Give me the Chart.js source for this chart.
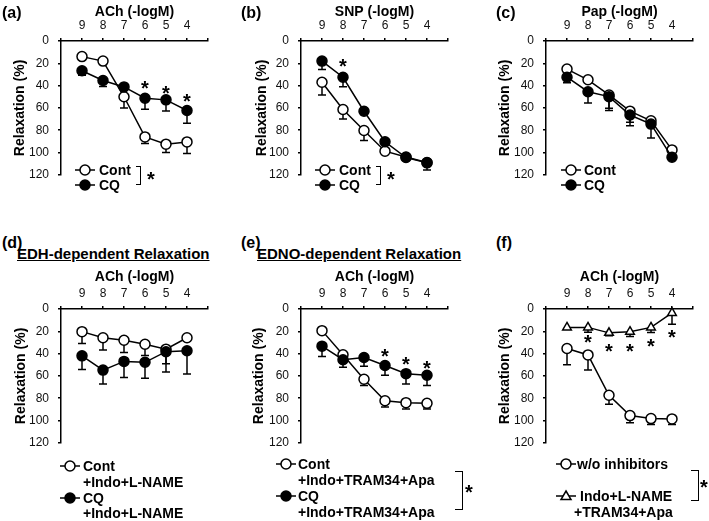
<!DOCTYPE html>
<html>
<head>
<meta charset="utf-8">
<script src="https://cdn.jsdelivr.net/npm/chart.js@4.4.0/dist/chart.umd.min.js"></script>
<style>
body { margin: 0; background: #fff; width: 709px; height: 521px; position: relative; overflow: hidden;
       font-family: 'Liberation Sans', Arial, sans-serif; color: #000; }
canvas { position: absolute; }
.t { position: absolute; white-space: nowrap; font-weight: bold; line-height: 18px; }
.br { position: absolute; border: 1.5px solid #000; border-left: none; box-sizing: border-box; }
</style>
</head>
<body>
<script>
// concentrações (-logM)
const conc = [9, 8, 7, 6, 5, 4];
const xTicks = [10, 9, 8, 7, 6, 5, 4, 3];

// (a) ACh
const contA = [14, 18, 50, 86, 92.5, 90.5];
const contAErr = [0, 0, 10, 6, 7.5, 10.5];
const cqA = [26.7, 35.4, 41.2, 51.3, 52.8, 62.3];
const cqAErr = [4, 5.5, 1.5, 10, 10, 11.5];
const sigAx = [6, 5, 4];
const sigAy = [39.5, 44, 51.5];

// (b) SNP
const contB = [37, 61.4, 80.3, 98.8, 104, 109];
const contBErr = [11.5, 8.5, 9, 0, 0, 0];
const cqB = [18, 32.5, 63, 90.4, 104.5, 109.3];
const cqBErr = [7.5, 8.5, 3, 0, 0, 6.5];
const sigBx = [8];
const sigBy = [19.4];

// (c) Pap
const contC = [25.2, 34.8, 48.4, 62.9, 71.6, 97.7];
const contCErr = [0, 0, 12, 10, 0, 0];
const cqC = [32.5, 45.5, 49.9, 66.4, 74.5, 104.3];
const cqCErr = [5, 10, 12.5, 9.6, 12.5, 0];

// (d) EDH
const contD = [20.3, 25.8, 28, 31.6, 36, 25.8];
const contDErr = [10.7, 11, 11, 10, 13, 0];
const cqD = [42, 54.8, 47, 47.8, 38.3, 37.4];
const cqDErr = [12.2, 12.4, 14.4, 14.2, 18.2, 21];

// (e) EDNO
const contE = [19.4, 41, 63, 82.3, 84, 84.6];
const contEErr = [0, 0, 5.7, 5.7, 5.7, 5.1];
const cqE = [33.3, 45.5, 43.5, 50.7, 58, 59.4];
const cqEErr = [9.3, 6.7, 7.8, 8.7, 9.2, 9.3];
const sigEx = [6, 5, 4];
const sigEy = [39.7, 47, 50];

// (f) sem / com inibidores
const woF = [35.4, 41.2, 77.4, 95.6, 98.3, 98.6];
const woFErr = [14.5, 13.6, 8.1, 6.4, 5.2, 4.9];
const inhF = [16.5, 16.5, 21.4, 20.3, 16.5, 3.5];
const inhFErr = [0, 4.4, 2.5, 4.3, 4.5, 10.1];
const sigFx = [8, 7, 6, 5, 4];
const sigFy = [26.7, 34.8, 34.8, 30.1, 22.3];

const FONT = "'Liberation Sans', Arial, sans-serif";
Chart.defaults.font.family = FONT;
Chart.defaults.color = '#000';

// barras de erro (só para baixo) e asteriscos
const extrasPlugin = {
    id: 'extras',
    beforeDatasetsDraw(chart) {
        const ctx = chart.ctx, xs = chart.scales.x, ys = chart.scales.y;
        ctx.save();
        ctx.strokeStyle = '#000';
        ctx.lineWidth = 1.5;
        chart.data.datasets.forEach(ds => {
            (ds.err || []).forEach((e, i) => {
                if (!e) return;
                const px = xs.getPixelForValue(ds.data[i].x);
                const y0 = ys.getPixelForValue(ds.data[i].y);
                const y1 = ys.getPixelForValue(ds.data[i].y + e);
                ctx.beginPath();
                ctx.moveTo(px, y0); ctx.lineTo(px, y1);
                ctx.moveTo(px - 4, y1); ctx.lineTo(px + 4, y1);
                ctx.stroke();
            });
        });
        ctx.restore();
    },
    afterDatasetsDraw(chart, args, opts) {
        if (!opts.sig) return;
        const ctx = chart.ctx, xs = chart.scales.x, ys = chart.scales.y;
        ctx.save();
        ctx.font = 'bold 20px ' + FONT;
        ctx.fillStyle = '#000';
        ctx.textAlign = 'center';
        ctx.textBaseline = 'middle';
        opts.sig.x.forEach((v, i) => {
            ctx.fillText('*', xs.getPixelForValue(v), ys.getPixelForValue(opts.sig.y[i]) + 4.5);
        });
        ctx.restore();
    }
};

function serie(vals, err, filled, style, order) {
    return {
        data: conc.map((c, i) => ({ x: c, y: vals[i] })),
        err: err,
        borderColor: '#000',
        borderWidth: 1.5,
        backgroundColor: filled ? '#000' : '#fff',
        pointBackgroundColor: filled ? '#000' : '#fff',
        pointBorderColor: '#000',
        pointBorderWidth: 1.5,
        pointStyle: style || 'circle',
        pointRadius: 5,
        tension: 0,
        clip: false,
        order: order
    };
}

function painel(p) {
    const cv = document.createElement('canvas');
    const w = p.right - p.left + 8;
    const h = p.axisY + 138 + 12;
    cv.width = w; cv.height = h;
    cv.style.left = p.left + 'px';
    cv.style.top = p.top + 'px';
    document.body.appendChild(cv);
    new Chart(cv.getContext('2d'), {
        type: 'line',
        data: { datasets: p.sets },
        options: {
            responsive: false,
            animation: false,
            layout: { padding: { left: 0, top: 0, right: 8, bottom: 12 } },
            plugins: { legend: { display: false }, tooltip: { enabled: false }, extras: { sig: p.sig } },
            scales: {
                x: {
                    type: 'linear', position: 'top', min: 3, max: 10, reverse: true,
                    afterBuildTicks: s => { s.ticks = xTicks.map(v => ({ value: v })); },
                    afterFit: s => { s.height = p.axisY; },
                    ticks: {
                        font: { size: 12 }, color: '#111', padding: 5, maxRotation: 0, autoSkip: false,
                        callback: v => (v === 10 || v === 3) ? '' : String(v)
                    },
                    grid: { drawOnChartArea: false, drawTicks: true, tickLength: 3, color: '#000', lineWidth: 1.5 },
                    border: { display: true, color: '#000', width: 1.5 },
                    title: { display: true, text: p.xTitle, font: { size: 14, weight: 'bold' }, padding: { top: 4, bottom: 0 } }
                },
                y: {
                    min: 0, max: 120, reverse: true,
                    afterFit: s => { s.width = p.axisX - p.left; },
                    ticks: { stepSize: 20, font: { size: 12 }, color: '#111', padding: 9 },
                    grid: { drawOnChartArea: false, drawTicks: true, tickLength: 3, color: '#000', lineWidth: 1.5 },
                    border: { display: true, color: '#000', width: 1.5 },
                    title: { display: true, text: 'Relaxation (%)', font: { size: 14, weight: 'bold' }, padding: { top: p.yPad, bottom: 0 } }
                }
            }
        },
        plugins: [extrasPlugin]
    });
}

painel({ left: 0, top: 0, axisX: 61, axisY: 41, right: 208, yPad: 12, xTitle: 'ACh (-logM)',
    sets: [serie(contA, contAErr, false, 'circle', 1), serie(cqA, cqAErr, true, 'circle', 0)],
    sig: { x: sigAx, y: sigAy } });
painel({ left: 240, top: 0, axisX: 301, axisY: 41, right: 448, yPad: 14, xTitle: 'SNP (-logM)',
    sets: [serie(contB, contBErr, false, 'circle', 1), serie(cqB, cqBErr, true, 'circle', 0)],
    sig: { x: sigBx, y: sigBy } });
painel({ left: 485, top: 0, axisX: 546, axisY: 41, right: 693, yPad: 12, xTitle: 'Pap (-logM)',
    sets: [serie(contC, contCErr, false, 'circle', 1), serie(cqC, cqCErr, true, 'circle', 0)] });
painel({ left: 0, top: 265, axisX: 61, axisY: 44, right: 208, yPad: 12.4, xTitle: 'ACh (-logM)',
    sets: [serie(contD, contDErr, false, 'circle', 1), serie(cqD, cqDErr, true, 'circle', 0)] });
painel({ left: 240, top: 265, axisX: 301, axisY: 44, right: 448, yPad: 10.6, xTitle: 'ACh (-logM)',
    sets: [serie(contE, contEErr, false, 'circle', 1), serie(cqE, cqEErr, true, 'circle', 0)],
    sig: { x: sigEx, y: sigEy } });
painel({ left: 485, top: 265, axisX: 546, axisY: 44, right: 693, yPad: 12, xTitle: 'ACh (-logM)',
    sets: [serie(woF, woFErr, false, 'circle', 1), serie(inhF, inhFErr, false, 'triangle', 0)],
    sig: { x: sigFx, y: sigFy } });

// textos soltos
function texto(txt, x, yc, size, extra) {
    const d = document.createElement('div');
    d.className = 't';
    d.style.left = x + 'px';
    d.style.top = (yc - 9) + 'px';
    d.style.fontSize = size + 'px';
    if (extra) Object.assign(d.style, extra);
    d.textContent = txt;
    document.body.appendChild(d);
}

function marcador(cx, cy, tipo, cheio) {
    const fill = cheio ? '#000' : '#fff';
    const forma = tipo === 'tri'
        ? `<polygon points="12,3 17,11.5 7,11.5" fill="${fill}" stroke="#000" stroke-width="1.5"/>`
        : `<circle cx="12" cy="8" r="5" fill="${fill}" stroke="#000" stroke-width="1.5"/>`;
    const d = document.createElement('div');
    d.style.cssText = `position:absolute;left:${cx - 12}px;top:${cy - 8}px;width:24px;height:16px`;
    d.innerHTML = `<svg width="24" height="16"><line x1="2" y1="8" x2="22" y2="8" stroke="#000" stroke-width="1.5"/>${forma}</svg>`;
    document.body.appendChild(d);
}

function colchete(x1, x2, y1, y2) {
    const d = document.createElement('div');
    d.className = 'br';
    d.style.left = x1 + 'px'; d.style.top = y1 + 'px';
    d.style.width = (x2 - x1) + 'px'; d.style.height = (y2 - y1) + 'px';
    document.body.appendChild(d);
}

texto('(a)', 2, 13, 16);
texto('(b)', 241, 13, 16);
texto('(c)', 496, 13, 16);
texto('(d)', 2, 243, 16);
texto('(e)', 241, 243, 16);
texto('(f)', 496, 243, 16);
texto('EDH-dependent Relaxation', 17, 254, 15, { textDecoration: 'underline' });
texto('EDNO-dependent Relaxation', 257, 254, 15, { textDecoration: 'underline' });

// legendas (a)-(c)
[[85, 99, 136], [325, 339, 376], [571, 584, null]].forEach(([mx, tx, bx]) => {
    marcador(mx, 170, 'circ', false);
    marcador(mx, 185, 'circ', true);
    texto('Cont', tx, 170, 14);
    texto('CQ', tx, 185, 14);
    if (bx) {
        colchete(bx, bx + 5, 166, 185);
        texto('*', bx + 11, 179, 20);
    }
});

// legenda (d)
marcador(70, 466, 'circ', false);
marcador(70, 498, 'circ', true);
texto('Cont', 83, 466, 14);
texto('+Indo+L-NAME', 83, 482, 14);
texto('CQ', 83, 498, 14);
texto('+Indo+L-NAME', 83, 513, 14);

// legenda (e)
marcador(286, 464, 'circ', false);
marcador(286, 496, 'circ', true);
texto('Cont', 298, 464, 14);
texto('+Indo+TRAM34+Apa', 298, 480, 14);
texto('CQ', 298, 496, 14);
texto('+Indo+TRAM34+Apa', 298, 512, 14);
colchete(455, 463, 471, 510);
texto('*', 465, 492, 20);

// legenda (f)
marcador(566, 464, 'circ', false);
marcador(566, 496, 'tri', false);
texto('w/o inhibitors', 577, 464, 14);
texto('Indo+L-NAME', 580, 496, 14);
texto('+TRAM34+Apa', 574, 512, 14);
colchete(691, 699, 470, 501);
texto('*', 700, 487, 20);
</script>
</body>
</html>
